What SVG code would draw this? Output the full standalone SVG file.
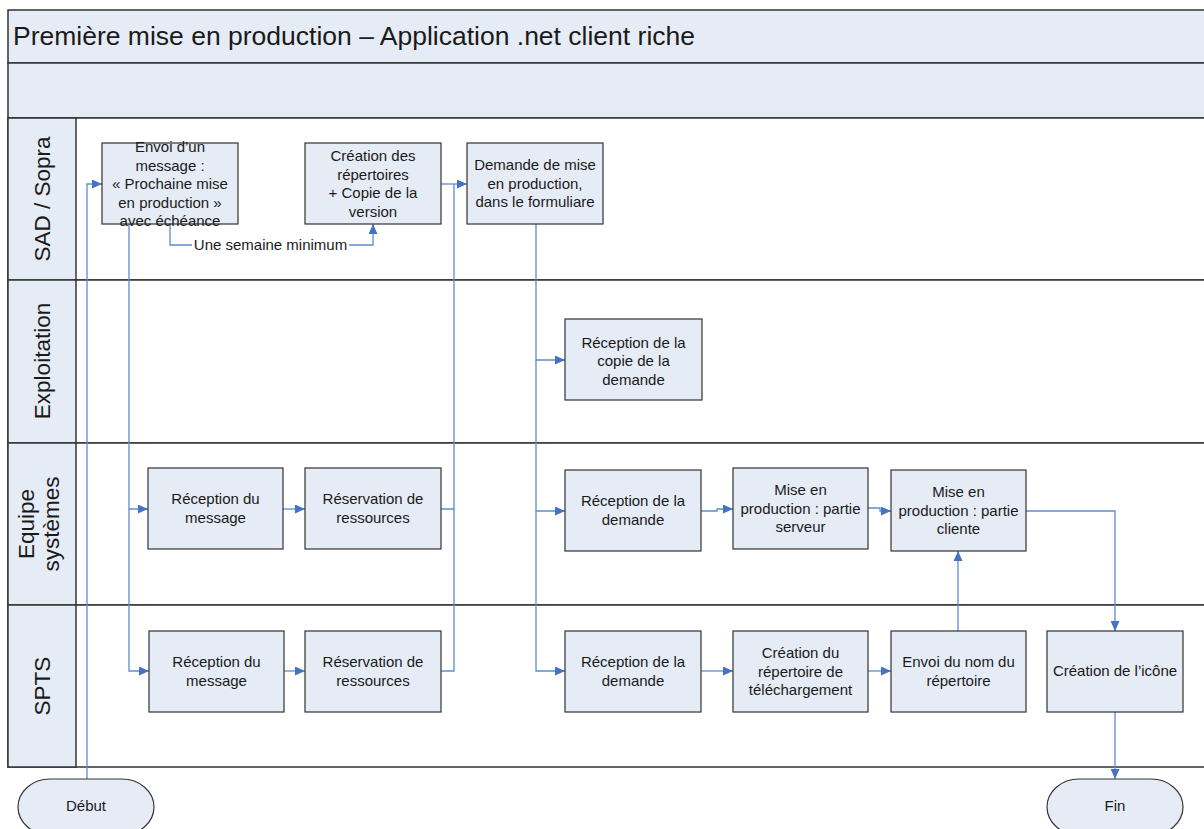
<svg xmlns="http://www.w3.org/2000/svg" width="1204" height="829" viewBox="0 0 1204 829">
  <style>
    .band { fill: #e6ecf6; stroke: #333; stroke-width: 1.5; }
    .lane { fill: #ffffff; stroke: #333; stroke-width: 1.5; }
    .node rect, .term rect { fill: #e6ecf6; stroke: #333; stroke-width: 1.2; }
    text { font-family: "Liberation Sans", Arial, sans-serif; fill: #1a1a1a; }
    .t { font-size: 15px; text-anchor: middle; }
    .lbl { font-size: 22.5px; text-anchor: middle; }
    .title { font-size: 26.5px; }
    .conn path { fill: none; stroke: #5f8ccd; stroke-width: 1.3; }
    .conn text { font-size: 15px; text-anchor: middle; }
  </style>
  <defs>
    <marker id="arr" markerUnits="userSpaceOnUse" markerWidth="10" markerHeight="9" refX="10" refY="4.5" orient="auto">
      <path d="M0,0 L10,4.5 L0,9 z" fill="#4472c4"/>
    </marker>
  </defs>

  <!-- pool frame and header bands -->
  <g id="pool">
    <rect class="band" x="8" y="10" width="1210" height="53"/>
    <rect class="band" x="8" y="63" width="1210" height="55"/>
    <rect class="lane" x="8" y="118" width="1210" height="162"/>
    <rect class="lane" x="8" y="280" width="1210" height="163"/>
    <rect class="lane" x="8" y="443" width="1210" height="162"/>
    <rect class="lane" x="8" y="605" width="1210" height="162"/>
    <rect class="band" x="8" y="118" width="68" height="162"/>
    <rect class="band" x="8" y="280" width="68" height="163"/>
    <rect class="band" x="8" y="443" width="68" height="162"/>
    <rect class="band" x="8" y="605" width="68" height="162"/>
    <text class="title" x="13" y="45">Première mise en production – Application .net client riche</text>
    <text class="lbl" transform="translate(50,199) rotate(-90)">SAD / Sopra</text>
    <text class="lbl" transform="translate(50,361) rotate(-90)">Exploitation</text>
    <text class="lbl" transform="translate(34,524) rotate(-90)">Equipe</text>
    <text class="lbl" transform="translate(59,524) rotate(-90)">systèmes</text>
    <text class="lbl" transform="translate(50,686) rotate(-90)">SPTS</text>
  </g>

  <!-- connectors -->
  <g id="connectors" class="conn">
    <path d="M87,779 V184 H102" marker-end="url(#arr)"/>
    <path d="M129,224 V509 H148" marker-end="url(#arr)"/>
    <path d="M129,509 V671 H149" marker-end="url(#arr)"/>
    <path d="M170,224 V245 H192"/>
    <path d="M349,245 H373 V224" marker-end="url(#arr)"/>
    <text x="270.5" y="250">Une semaine minimum</text>
    <path d="M283,509 H305" marker-end="url(#arr)"/>
    <path d="M284,671 H305" marker-end="url(#arr)"/>
    <path d="M441,509 H454 V184"/>
    <path d="M441,671 H454 V509"/>
    <path d="M441,184 H467" marker-end="url(#arr)"/>
    <path d="M536,224 V360 H565" marker-end="url(#arr)"/>
    <path d="M536,360 V511 H565" marker-end="url(#arr)"/>
    <path d="M536,511 V671 H565" marker-end="url(#arr)"/>
    <path d="M701,511 H717 V509 H733" marker-end="url(#arr)"/>
    <path d="M868,508 H880 V511 H891" marker-end="url(#arr)"/>
    <path d="M1026,511 H1115 V631" marker-end="url(#arr)"/>
    <path d="M701,671 H733" marker-end="url(#arr)"/>
    <path d="M868,671 H891" marker-end="url(#arr)"/>
    <path d="M958,631 V551" marker-end="url(#arr)"/>
    <path d="M1115,712 V779" marker-end="url(#arr)"/>
  </g>

  <!-- SAD / Sopra -->
  <g id="envoi-message" class="node">
    <rect x="102" y="143" width="136" height="81"/>
    <text class="t" x="170"><tspan x="170" y="152">Envoi d’un</tspan><tspan x="170" y="170.5">message :</tspan><tspan x="170" y="189">« Prochaine mise</tspan><tspan x="170" y="207.5">en production »</tspan><tspan x="170" y="226">avec échéance</tspan></text>
  </g>
  <g id="creation-repertoires" class="node">
    <rect x="305" y="143" width="136" height="81"/>
    <text class="t"><tspan x="373" y="161">Création des</tspan><tspan x="373" y="179.5">répertoires</tspan><tspan x="373" y="198">+ Copie de la</tspan><tspan x="373" y="216.5">version</tspan></text>
  </g>
  <g id="demande-mep" class="node">
    <rect x="467" y="143" width="136" height="81"/>
    <text class="t"><tspan x="535" y="170">Demande de mise</tspan><tspan x="535" y="188.5">en production,</tspan><tspan x="535" y="207">dans le formuliare</tspan></text>
  </g>

  <!-- Exploitation -->
  <g id="reception-copie" class="node">
    <rect x="565" y="319" width="137" height="81"/>
    <text class="t"><tspan x="633.5" y="347.5">Réception de la</tspan><tspan x="633.5" y="366">copie de la</tspan><tspan x="633.5" y="384.5">demande</tspan></text>
  </g>

  <!-- Equipe systèmes -->
  <g id="eq-reception-message" class="node">
    <rect x="148" y="468" width="135" height="81"/>
    <text class="t"><tspan x="215.5" y="504">Réception du</tspan><tspan x="215.5" y="523">message</tspan></text>
  </g>
  <g id="eq-reservation" class="node">
    <rect x="305" y="468" width="136" height="81"/>
    <text class="t"><tspan x="373" y="504">Réservation de</tspan><tspan x="373" y="523">ressources</tspan></text>
  </g>
  <g id="eq-reception-demande" class="node">
    <rect x="565" y="470" width="136" height="81"/>
    <text class="t"><tspan x="633" y="506">Réception de la</tspan><tspan x="633" y="525">demande</tspan></text>
  </g>
  <g id="mep-serveur" class="node">
    <rect x="733" y="468" width="135" height="81"/>
    <text class="t"><tspan x="800.5" y="495">Mise en</tspan><tspan x="800.5" y="513.5">production : partie</tspan><tspan x="800.5" y="532">serveur</tspan></text>
  </g>
  <g id="mep-cliente" class="node">
    <rect x="891" y="470" width="135" height="81"/>
    <text class="t"><tspan x="958.5" y="497">Mise en</tspan><tspan x="958.5" y="515.5">production : partie</tspan><tspan x="958.5" y="534">cliente</tspan></text>
  </g>

  <!-- SPTS -->
  <g id="spts-reception-message" class="node">
    <rect x="149" y="631" width="135" height="81"/>
    <text class="t"><tspan x="216.5" y="667">Réception du</tspan><tspan x="216.5" y="686">message</tspan></text>
  </g>
  <g id="spts-reservation" class="node">
    <rect x="305" y="631" width="136" height="81"/>
    <text class="t"><tspan x="373" y="667">Réservation de</tspan><tspan x="373" y="686">ressources</tspan></text>
  </g>
  <g id="spts-reception-demande" class="node">
    <rect x="565" y="631" width="136" height="81"/>
    <text class="t"><tspan x="633" y="667">Réception de la</tspan><tspan x="633" y="686">demande</tspan></text>
  </g>
  <g id="creation-repertoire-dl" class="node">
    <rect x="733" y="631" width="135" height="81"/>
    <text class="t"><tspan x="800.5" y="658">Création du</tspan><tspan x="800.5" y="676.5">répertoire de</tspan><tspan x="800.5" y="695">téléchargement</tspan></text>
  </g>
  <g id="envoi-nom" class="node">
    <rect x="891" y="631" width="135" height="81"/>
    <text class="t"><tspan x="958.5" y="667">Envoi du nom du</tspan><tspan x="958.5" y="686">répertoire</tspan></text>
  </g>
  <g id="creation-icone" class="node">
    <rect x="1047" y="631" width="136" height="81"/>
    <text class="t"><tspan x="1115" y="676">Création de l’icône</tspan></text>
  </g>

  <!-- terminators -->
  <g id="debut" class="term">
    <rect x="18" y="779" width="136" height="56" rx="32" ry="28"/>
    <text class="t" x="86" y="811">Début</text>
  </g>
  <g id="fin" class="term">
    <rect x="1047" y="779" width="136" height="56" rx="32" ry="28"/>
    <text class="t" x="1115" y="811">Fin</text>
  </g>
</svg>
